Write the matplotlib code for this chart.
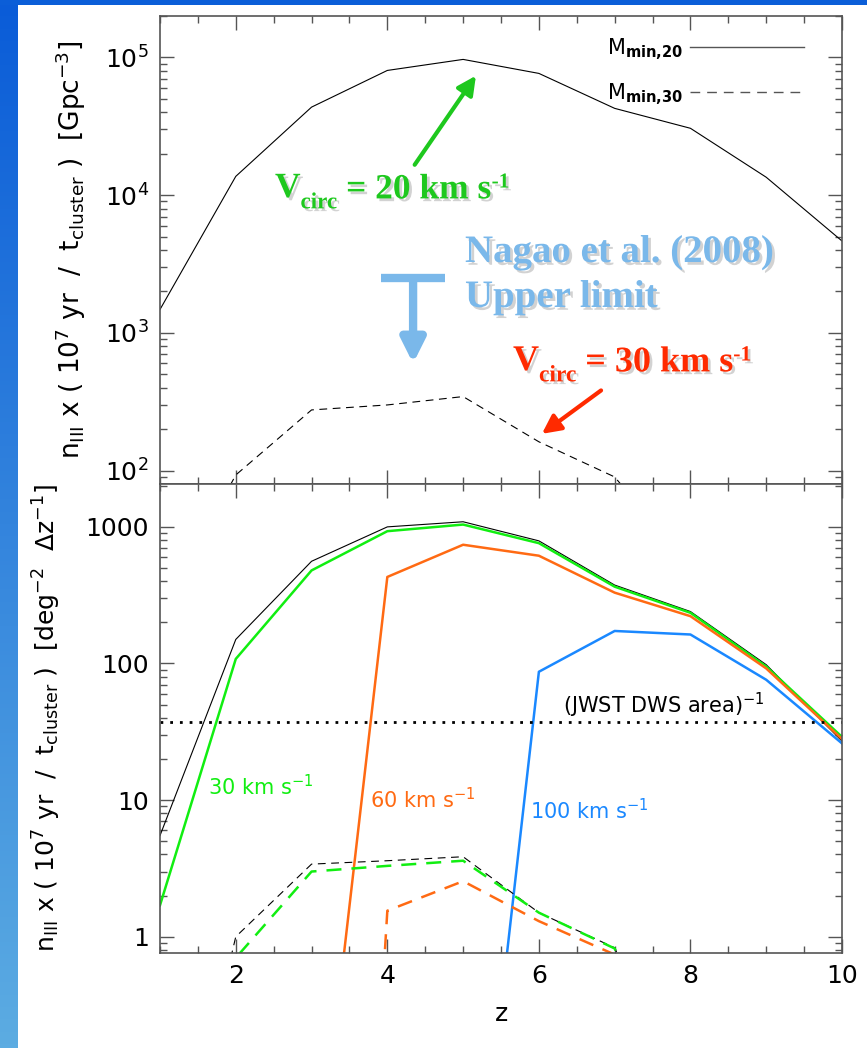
import numpy as np
import matplotlib
matplotlib.use("Agg")
import matplotlib.pyplot as plt
import matplotlib.patheffects as pe
from matplotlib.ticker import MultipleLocator, LogLocator, FixedLocator, FixedFormatter, NullFormatter
from matplotlib.lines import Line2D

# redshift grid
z = np.arange(1, 11)

# comoving number density of Pop III clusters [Gpc^-3]
dens_m20 = [1480, 13700, 43600, 80500, 96800, 76600, 42700, 30600, 13500, 4650]
dens_m30 = [9, 93, 276, 300, 345, 162, 90, 20, 5, 1]

# surface density [deg^-2 dz^-1], solid = M_min,20, dashed = M_min,30
total_20 = [5.5, 150, 560, 1000, 1090, 790, 375, 240, 98, 27]
v30_20 = [1.7, 108, 480, 930, 1040, 760, 365, 235, 95, 29]
v60_20 = [1e-4, 1e-3, 6.5e-3, 430, 740, 615, 330, 222, 92, 28]
v100_20 = [1e-6, 1e-5, 1e-4, 1e-3, 1.1e-3, 87, 173, 163, 76, 26]
total_30 = [4.6e-3, 1.0, 3.4, 3.6, 3.85, 1.5, 0.83, 0.05, 0.01, 0.001]
v30_30 = [0.01, 0.7, 3.0, 3.3, 3.6, 1.5, 0.82, 0.05, 0.01, 0.001]
v60_30 = [1e-9, 1e-9, 1e-9, 1.55, 2.55, 1.3, 0.74, 0.05, 0.01, 0.001]

jwst_dws = 37.0            # (JWST DWS area)^-1
nagao_z = [3.92, 4.76]     # upper limit bar extent
nagao_limit = 2500.0

W, H = 867, 1048
fig = plt.figure(figsize=(W / 100, H / 100), dpi=100)
fig.patch.set_facecolor("white")

# blue frame: left strip with a vertical gradient, thin band on top
bg = fig.add_axes([0, 0, 1, 1], zorder=-10)
top_c = np.array([10, 92, 216]) / 255
bot_c = np.array([92, 172, 226]) / 255
t = np.linspace(0, 1, 256)[:, None]
grad = (top_c[None, :] * (1 - t) + bot_c[None, :] * t)[:, None, :]
bg.imshow(grad, extent=[0, 18, H, 0], aspect="auto")
bg.add_patch(plt.Rectangle((0, 0), W, 5, color=(11/255, 94/255, 216/255), lw=0))
bg.set_xlim(0, W)
bg.set_ylim(H, 0)
bg.axis("off")


def px(x, y):
    return x / W, 1 - y / H


left, right = 160, 842
ax1 = fig.add_axes([left / W, (H - 484) / H, (right - left) / W, 468 / H])
ax2 = fig.add_axes([left / W, (H - 953) / H, (right - left) / W, 469 / H])

shadow = [pe.SimplePatchShadow(offset=(2, -2), shadow_rgbFace="gray", alpha=0.35), pe.Normal()]


def serif_label(x, y, parts, color, size=27):
    """Bold serif text built from pieces: (string, relative size, vertical shift in pt)."""
    kw = dict(family="Liberation Serif", weight="bold", color=color,
              path_effects=shadow, annotation_clip=False)
    s, f, dy = parts[0]
    prev = ax1.annotate(s, xy=(x, H - y), xycoords="figure pixels", va="baseline",
                        fontsize=size * f, **kw)
    for s, f, dy in parts[1:]:
        prev = ax1.annotate(s, xy=(1, 0), xycoords=prev, xytext=(0, dy),
                            textcoords="offset points", va="bottom",
                            fontsize=size * f, **kw)
    return prev


tick_col = "#555555"
for ax in (ax1, ax2):
    ax.set_xlim(1, 10)
    ax.set_yscale("log")
    ax.xaxis.set_major_locator(MultipleLocator(2))
    ax.xaxis.set_minor_locator(MultipleLocator(0.5))
    ax.tick_params(which="both", direction="in", top=True, right=True,
                   color=tick_col, width=1, labelsize=18, pad=8)
    ax.tick_params(which="major", length=10)
    ax.tick_params(which="minor", length=5)
    for s in ax.spines.values():
        s.set_color(tick_col)
        s.set_linewidth(1.2)

# upper panel
ax1.set_ylim(80, 2.0e5)
ax1.set_xticklabels([])
ax1.plot(z, dens_m20, color="black", lw=0.8)
ax1.plot(z, dens_m30, color="black", lw=0.8, dashes=(7, 5))
ax1.set_ylabel(r"n$_{\rm III}$ x ( 10$^7$ yr  /  t$_{\rm cluster}$ )  [Gpc$^{-3}$]", fontsize=19)
ax1.yaxis.set_label_coords(-0.106, 0.5)

handles = [Line2D([], [], color="#555555", lw=1),
           Line2D([], [], color="#555555", lw=1, dashes=(7, 5))]
ax1.legend(handles, [r"M$_{\bf min{,}20}$", r"M$_{\bf min{,}30}$"], loc="upper right",
           bbox_to_anchor=(0.957, 0.974), frameon=False, markerfirst=False, fontsize=15,
           handlelength=5.5, handletextpad=0.3, labelspacing=0.95, borderaxespad=0)

# annotations
green_t, red_t, lblue = "#1ec81e", "#ff2a00", "#7ab8ea"
serif_label(275, 197, [("V", 1, 0), ("circ", 0.65, -6), (" = 20 km s", 1, 5), ("-1", 0.6, 10)],
            green_t, size=25.5)
ax1.annotate("", xy=(5.19, 76600), xytext=(4.34, 16000),
             arrowprops=dict(arrowstyle="-|>", color=green_t, lw=3, mutation_scale=28))

serif_label(513, 370, [("V", 1, 0), ("circ", 0.65, -6), (" = 30 km s", 1, 5), ("-1", 0.6, 10)],
            red_t, size=26)
ax1.annotate("", xy=(6.01, 180), xytext=(6.85, 393),
             arrowprops=dict(arrowstyle="-|>", color=red_t, lw=3, mutation_scale=28))

serif_label(465, 262, [("Nagao et al. (2008)", 1, 0)], lblue, size=28)
serif_label(465, 307, [("Upper limit", 1, 0)], lblue, size=28)

ax1.plot(nagao_z, [nagao_limit, nagao_limit], color=lblue, lw=6, solid_capstyle="butt")
ax1.annotate("", xy=(np.mean(nagao_z), 600), xytext=(np.mean(nagao_z), nagao_limit),
             arrowprops=dict(arrowstyle="-|>", color=lblue, lw=6, mutation_scale=35,
                             shrinkA=0, shrinkB=0))

# lower panel
ax2.set_ylim(0.76, 2060)
ax2.yaxis.set_major_locator(FixedLocator([1, 10, 100, 1000]))
ax2.yaxis.set_major_formatter(FixedFormatter(["1", "10", "100", "1000"]))
ax2.yaxis.set_minor_locator(LogLocator(base=10, subs=np.arange(2, 10)))
ax2.yaxis.set_minor_formatter(NullFormatter())
ax2.set_xlabel("z", fontsize=18, labelpad=10)

green, orange, blue = "#11ee11", "#ff6a13", "#1a88ff"
ax2.plot(z, total_20, color="black", lw=0.8)
ax2.plot(z, v30_20, color=green, lw=1.8)
ax2.plot(z, v60_20, color=orange, lw=1.8)
ax2.plot(z, v100_20, color=blue, lw=1.8)
ax2.plot(z, total_30, color="black", lw=0.8, dashes=(7, 5))
ax2.plot(z, v30_30, color=green, lw=1.8, dashes=(6, 4))
ax2.plot(z, v60_30, color=orange, lw=1.8, dashes=(6, 4))
ax2.axhline(jwst_dws, color="black", lw=2, linestyle=(0, (1, 2.5)))

ax2.set_ylabel(r"n$_{\rm III}$ x ( 10$^7$ yr  /  t$_{\rm cluster}$ )  [deg$^{-2}$  $\Delta$z$^{-1}$]", fontsize=18)
ax2.yaxis.set_label_coords(-0.142, 0.5)

fig.text(*px(563, 713), r"(JWST DWS area)$^{-1}$", fontsize=15, color="black")
fig.text(*px(208, 795), r"30 km s$^{-1}$", fontsize=15, color=green)
fig.text(*px(370, 808), r"60 km s$^{-1}$", fontsize=15, color=orange)
fig.text(*px(530, 819), r"100 km s$^{-1}$", fontsize=15, color=blue)

fig.savefig("out.png", dpi=100)
